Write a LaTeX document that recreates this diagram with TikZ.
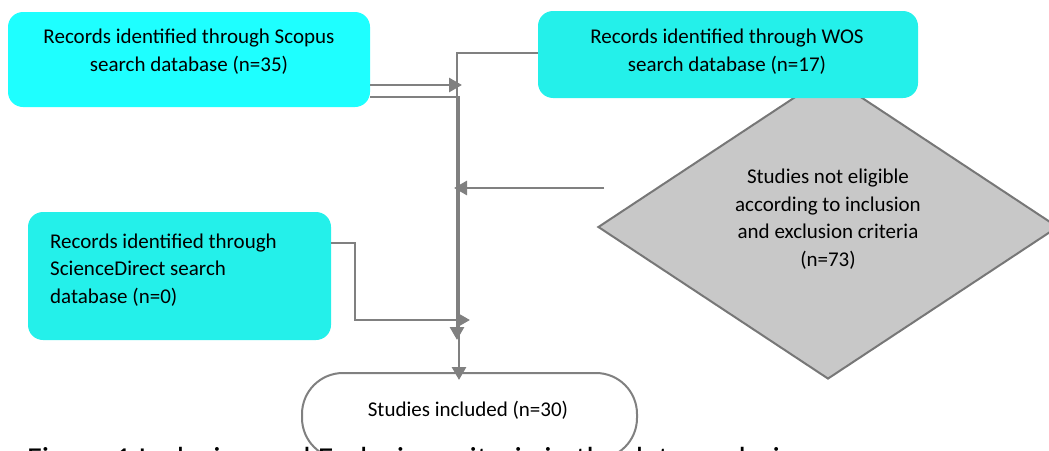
\documentclass[tikz,border=0pt]{standalone}
\usepackage{fontspec}
\setmainfont{Carlito}
\usetikzlibrary{arrows.meta,shapes.geometric}
\definecolor{cyanA}{RGB}{30,255,255}
\definecolor{cyanB}{RGB}{36,240,234}
\definecolor{lgray}{RGB}{128,128,128}
\definecolor{dgray}{RGB}{119,119,119}
\definecolor{dfill}{RGB}{200,200,200}
\begin{document}
\begin{tikzpicture}[x=1pt,y=-1pt,
  box/.style={rectangle,rounded corners=15pt,draw=none,inner sep=0pt},
  txt/.style={font=\fontsize{21}{27.5}\selectfont,align=center,inner sep=0pt},
  conn/.style={draw=lgray,line width=2.8pt},
  arr/.style={conn,-{Triangle[length=13pt,width=14pt]}}]
\useasboundingbox (0,0) rectangle (1049,450);
\clip (0,0) rectangle (1049,450);
% shapes
\node[diamond,draw=dgray,fill=dfill,line width=2pt,minimum width=460pt,minimum height=304pt,inner sep=0pt] (excl) at (828,227) {};
\node[txt] (excltext) at (828,219) {Studies not eligible\\according to inclusion\\and exclusion criteria\\(n=73)};
\node[box,fill=cyanA,minimum width=362pt,minimum height=95pt] (scopus) at (189,59.5) {};
\node[txt] (scopustext) at (189,51.5) {Records identified through Scopus\\search database (n=35)};
\node[box,fill=cyanB,minimum width=380pt,minimum height=87pt] (wos) at (728,54.5) {};
\node[txt] (wostext) at (727,51.5) {Records identified through WOS\\search database (n=17)};
\node[box,fill=cyanB,minimum width=303pt,minimum height=128pt] (sd) at (179.5,276) {};
\node[txt,align=left,anchor=west] (sdtext) at (50,270) {Records identified through\\ScienceDirect search\\database (n=0)};
\node[rectangle,rounded corners=41pt,draw=lgray,line width=2pt,fill=white,minimum width=335pt,minimum height=86pt] (incl) at (469.5,416) {};
\node[txt] (incltext) at (468,410) {Studies included (n=30)};
\node[anchor=base west,inner sep=0pt,font=\fontsize{32}{38}\selectfont] (caption) at (27,469) {Figure 1 Inclusion and Exclusion criteria in the data analysis};
% connector points
\coordinate (spine) at (459,97);
\coordinate (spineW) at (457,53);
\coordinate (j1) at (462,85);
\coordinate (dstart) at (604,188);
\coordinate (dend) at (454,188);
\coordinate (sdbend) at (355,243);
\coordinate (sdend) at (470,320);
% connectors
\draw[arr] ([yshift=-25.5pt]scopus.east) -- (j1);
\draw[arr] ([yshift=-37.5pt]scopus.east) -- (spine) -- ([yshift=-8pt]incl.north -| spine);
\draw[arr] ([yshift=1.5pt]wos.west) -- (spineW) -- (spineW |- 0,340);
\draw[arr] ([yshift=33pt]sd.east) -- (sdbend) -- (sdbend |- sdend) -- (sdend);
\draw[arr] (dstart) -- (dend);
\end{tikzpicture}
\end{document}
